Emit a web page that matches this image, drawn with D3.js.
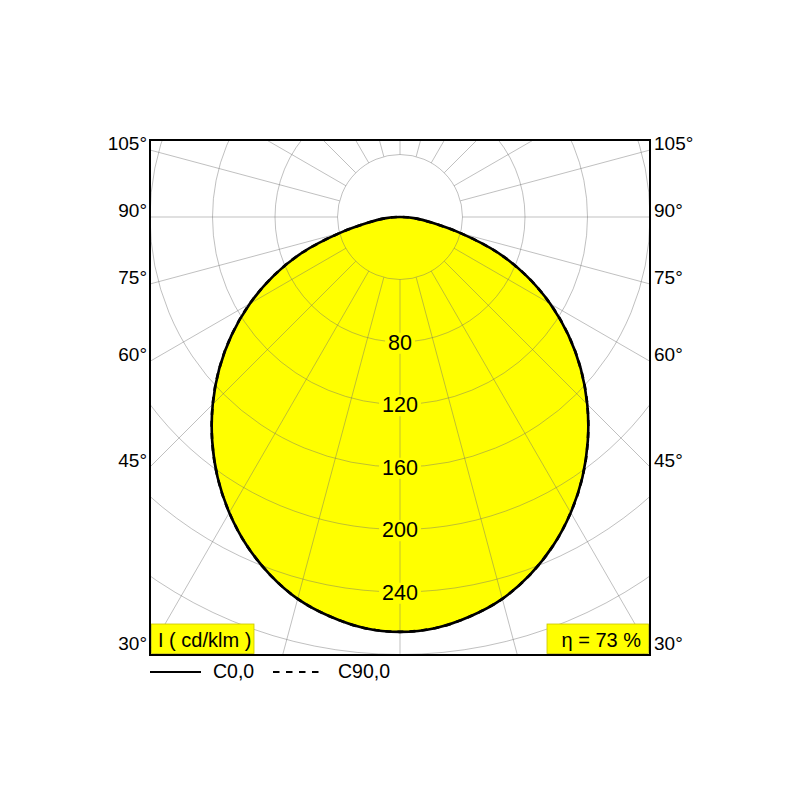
<!DOCTYPE html>
<html>
<head>
<meta charset="utf-8">
<script src="https://cdn.jsdelivr.net/npm/d3@7"></script>
<style>
  html, body { margin: 0; padding: 0; background: #fff; }
  text { font-family: "Liberation Sans", Arial, sans-serif; }
</style>
</head>
<body>
<svg id="chart" width="800" height="800"></svg>
<script>
// ---- data ----
const angles = [0, 5, 10, 15, 20, 25, 30, 35, 40, 45, 50, 55, 60, 65, 70, 75, 80, 85, 90];
const c0Values  = [265.5, 264, 259.5, 253, 243.5, 232, 218.5, 203.5, 187, 169.5, 151, 131.5, 111, 89.5, 66.5, 40.5, 20.5, 10, 0];
const c90Values = [265.5, 264, 259.5, 253, 243.5, 232, 218.5, 203.5, 187, 169.5, 151, 131.5, 111, 89.5, 66.5, 40.5, 20.5, 10, 0];
const ringValues = [40, 80, 120, 160, 200, 240, 280, 320];
const ringLabels = [80, 120, 160, 200, 240];
const angleTicks = [30, 45, 60, 75, 90, 105];
const spokeAngles = d3.range(0, 360, 15);
const legendNames = ["C0,0", "C90,0"];
const unitLabel = "I ( cd/klm )";
const etaLabel = "η = 73 %";

// ---- layout ----
const frame = { x0: 150, x1: 650, y0: 140, y1: 655 };
const cx = 400, cy = 217;
const r = d3.scaleLinear().domain([0, 160]).range([0, 250]);
const rad = d => d * Math.PI / 180;

const svg = d3.select("#chart");
const defs = svg.append("defs");
defs.append("clipPath").attr("id", "clip")
  .append("rect").attr("x", frame.x0).attr("y", frame.y0)
  .attr("width", frame.x1 - frame.x0).attr("height", frame.y1 - frame.y0);

const g = svg.append("g").attr("clip-path", "url(#clip)");

// build the full symmetric curve (left half mirrored)
function curvePoints(vals) {
  const pts = [];
  for (let i = angles.length - 1; i >= 0; i--) pts.push([-angles[i], vals[i]]);
  for (let i = 1; i < angles.length - 1; i++) pts.push([angles[i], vals[i]]);
  return pts;
}
const line = d3.lineRadial()
  .angle(d => Math.PI - rad(d[0]))
  .radius(d => r(d[1]))
  .curve(d3.curveCatmullRomClosed.alpha(0.5));

const plot = g.append("g").attr("transform", `translate(${cx},${cy})`);

// fill
plot.append("path").datum(curvePoints(c0Values))
  .attr("d", line).attr("fill", "#ffff00").attr("stroke", "none");

// grid rings
g.selectAll("circle.ring").data(ringValues).join("circle")
  .attr("class", "ring")
  .attr("cx", cx).attr("cy", cy).attr("r", d => r(d))
  .attr("fill", "none").attr("stroke", "#6e6e6e").attr("stroke-opacity", 0.55).attr("stroke-width", 0.8);

// spokes
g.selectAll("line.spoke").data(spokeAngles).join("line")
  .attr("class", "spoke")
  .attr("x1", d => cx + r(40) * Math.sin(rad(d)))
  .attr("y1", d => cy + r(40) * Math.cos(rad(d)))
  .attr("x2", d => cx + r(360) * Math.sin(rad(d)))
  .attr("y2", d => cy + r(360) * Math.cos(rad(d)))
  .attr("stroke", "#6e6e6e").attr("stroke-opacity", 0.55).attr("stroke-width", 0.8);

// curves
const plot2 = g.append("g").attr("transform", `translate(${cx},${cy})`);
plot2.append("path").datum(curvePoints(c0Values))
  .attr("d", line).attr("fill", "none").attr("stroke", "#000").attr("stroke-width", 2.6);
plot2.append("path").datum(curvePoints(c90Values))
  .attr("d", line).attr("fill", "none").attr("stroke", "#000").attr("stroke-width", 2.6)
  .attr("stroke-dasharray", "6,6");

// ring labels with yellow background
const rl = svg.append("g");
ringLabels.forEach(v => {
  const y = cy + r(v);
  const t = rl.append("text")
    .attr("x", cx).attr("y", y).attr("dy", "0.36em")
    .attr("text-anchor", "middle").attr("font-size", 21.5).attr("fill", "#000")
    .text(v);
  const bb = t.node().getBBox();
  rl.insert("rect", "text")
    .attr("x", bb.x - 3).attr("y", bb.y + 2).attr("width", bb.width + 6).attr("height", bb.height - 3)
    .attr("fill", "#ffff00");
});

// frame
svg.append("rect").attr("x", frame.x0).attr("y", frame.y0)
  .attr("width", frame.x1 - frame.x0).attr("height", frame.y1 - frame.y0)
  .attr("fill", "none").attr("stroke", "#000").attr("stroke-width", 2);

// angle labels
const halfW = frame.x1 - cx;
angleTicks.forEach(a => {
  const y = cy + halfW * Math.cos(rad(a)) / Math.sin(rad(a));
  svg.append("text").attr("x", frame.x0 - 3).attr("y", y)
    .attr("text-anchor", "end").attr("font-size", 19).text(a + "°");
  svg.append("text").attr("x", frame.x1 + 4).attr("y", y)
    .attr("text-anchor", "start").attr("font-size", 19).text(a + "°");
});

// info boxes
svg.append("rect").attr("x", 151.5).attr("y", 624).attr("width", 102.5).attr("height", 29.5)
  .attr("fill", "#ffff00").attr("stroke", "#c9c400").attr("stroke-width", 0.8);
svg.append("text").attr("x", 158).attr("y", 647).attr("font-size", 20).text(unitLabel);
svg.append("rect").attr("x", 547).attr("y", 624).attr("width", 101.5).attr("height", 29.5)
  .attr("fill", "#ffff00").attr("stroke", "#c9c400").attr("stroke-width", 0.8);
svg.append("text").attr("x", 641).attr("y", 647).attr("text-anchor", "end").attr("font-size", 20).text(etaLabel);

// legend
const ly = 672;
svg.append("line").attr("x1", 150).attr("x2", 201).attr("y1", ly).attr("y2", ly)
  .attr("stroke", "#000").attr("stroke-width", 2);
svg.append("text").attr("x", 213).attr("y", ly + 5.5).attr("font-size", 19.5).text(legendNames[0]);
svg.append("line").attr("x1", 273).attr("x2", 319).attr("y1", ly).attr("y2", ly)
  .attr("stroke", "#000").attr("stroke-width", 2).attr("stroke-dasharray", "6.5,6.5");
svg.append("text").attr("x", 338).attr("y", ly + 5.5).attr("font-size", 19.5).text(legendNames[1]);
</script>
</body>
</html>
